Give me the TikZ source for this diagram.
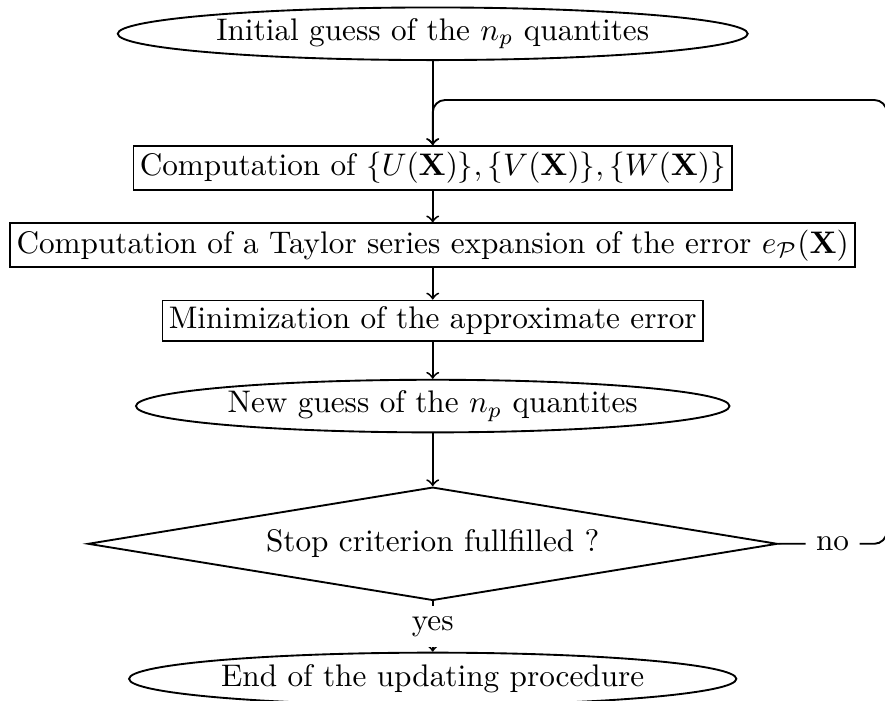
\documentclass[tikz,border=0pt]{standalone}
\usepackage{amssymb,amsfonts,amsmath}
\usepackage{xcolor}
\usetikzlibrary{shapes.geometric}

\begin{document}
\begin{tikzpicture}[
  oval/.style={draw, semithick, ellipse, inner sep=1pt, minimum height=0.59cm},
  block/.style={draw, semithick, rectangle, inner sep=2pt, minimum height=0.42cm},
  test/.style={draw, semithick, diamond, aspect=5.5, minimum width=7.76cm, minimum height=1.26cm},
  link/.style={semithick, ->}]
\useasboundingbox (-4.87,0) rectangle (5.09,-7.88);

\node[oval, minimum width=7.09cm] (init) at (0,-0.38) {Initial guess of the $n_p$ quantites};
\node[block] (comp) at (0,-1.89) {Computation of $\{U(\mathbf{X})\},\{V(\mathbf{X})\},\{W(\mathbf{X})\}$};
\node[block] (taylor) at (0,-2.76) {Computation of a Taylor series expansion of the error $e_{\mathcal{P}}(\mathbf{X})$};
\node[block] (mini) at (0,-3.61) {Minimization of the approximate error};
\node[oval, minimum width=6.68cm] (newguess) at (0,-4.57) {New guess of the $n_p$ quantites};
\node[test] (stop) at (0,-6.12) {Stop criterion fullfilled ?};
\node[oval, minimum width=6.51cm] (endproc) at (0,-7.64) {End of the updating procedure};
\coordinate (corner) at (5.11,-1.125);

\draw[link] (init) -- (comp);
\draw[link] (comp) -- (taylor);
\draw[link] (taylor) -- (mini);
\draw[link] (mini) -- (newguess);
\draw[link] (newguess) -- (stop);
\draw[link] (stop) -- node[fill=white]{yes} (endproc);
\draw[link, rounded corners] (stop.east) -- node[fill=white]{no} (stop.east -| corner) -- (corner) -- (comp.north |- corner) -- (comp.north);
\end{tikzpicture}
\end{document}
